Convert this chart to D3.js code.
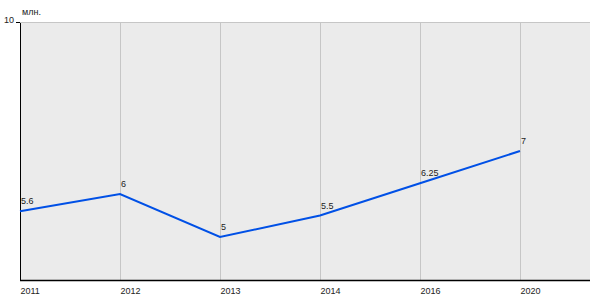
<!DOCTYPE html>
<html><head><meta charset="utf-8">
<script src="https://cdn.jsdelivr.net/npm/d3@7"></script>
<style>body{margin:0;background:#fff}svg{display:block}</style>
</head><body>
<svg id="c" width="600" height="300"></svg>
<script>
const categories = ["2011","2012","2013","2014","2016","2020"];
const values = [5.6, 6, 5, 5.5, 6.25, 7];
const valueLabels = ["5.6","6","5","5.5","6.25","7"];
const yTicks = [10];
const unitLabel = "млн.";

const svg = d3.select("#c");
const L = 20, R = 590, T = 22, B = 280;
const x = d3.scalePoint().domain(categories).range([L, L + 100*(categories.length-1)]);
const y = d3.scaleLinear().domain([4, 10]).range([B, T]);
const font = "Liberation Sans, Arial, sans-serif";
const fs = 9;

svg.append("rect").attr("x", L).attr("y", T).attr("width", R-L).attr("height", B-T).attr("fill", "#ebebeb");

// gridlines
svg.append("g").selectAll("line").data(categories.slice(1)).join("line")
  .attr("x1", d=>x(d)).attr("x2", d=>x(d)).attr("y1", T).attr("y2", B)
  .attr("stroke", "#c6c6c6").attr("stroke-width", 1).attr("shape-rendering","crispEdges");
svg.append("g").selectAll("line").data(yTicks).join("line")
  .attr("x1", L).attr("x2", R).attr("y1", d=>y(d)).attr("y2", d=>y(d))
  .attr("stroke", "#c6c6c6").attr("stroke-width", 1).attr("shape-rendering","crispEdges");

// axes
const yAxis = svg.append("g").attr("transform", `translate(${L},0)`)
  .call(d3.axisLeft(y).tickValues(yTicks).tickFormat(d3.format("d")).tickSize(4).tickPadding(2).tickSizeOuter(0));
yAxis.select(".domain").attr("stroke", "#000").attr("shape-rendering","crispEdges");
yAxis.selectAll(".tick line").attr("stroke", "#000").attr("shape-rendering","crispEdges");
yAxis.selectAll("text").attr("font-family", font).attr("font-size", fs).attr("fill", "#222").attr("dy","0.1em");

const xAxis = svg.append("g").attr("transform", `translate(0,${B})`)
  .call(d3.axisBottom(x).tickSize(0).tickPadding(6).tickSizeOuter(0));
xAxis.select(".domain").attr("d", `M${L},0.5H${R}`).attr("stroke", "#000").attr("stroke-width", 1.5);
xAxis.selectAll("text").attr("font-family", font).attr("font-size", fs).attr("fill", "#222")
  .attr("text-anchor", "start").attr("dy", "0.9em");

svg.append("text").attr("x", L+2).attr("y", 15).text(unitLabel)
  .attr("font-family", font).attr("font-size", fs).attr("fill", "#222");

// line
const line = d3.line().x((d,i)=>x(categories[i])).y(d=>y(d));
svg.append("path").datum(values).attr("d", line).attr("fill","none")
  .attr("stroke", "#0050e6").attr("stroke-width", 2);

svg.append("g").selectAll("text").data(values).join("text")
  .attr("x", (d,i)=>x(categories[i])+1).attr("y", d=>y(d)-7)
  .text((d,i)=>valueLabels[i])
  .attr("font-family", font).attr("font-size", fs).attr("fill", "#222");
</script>
</body></html>
